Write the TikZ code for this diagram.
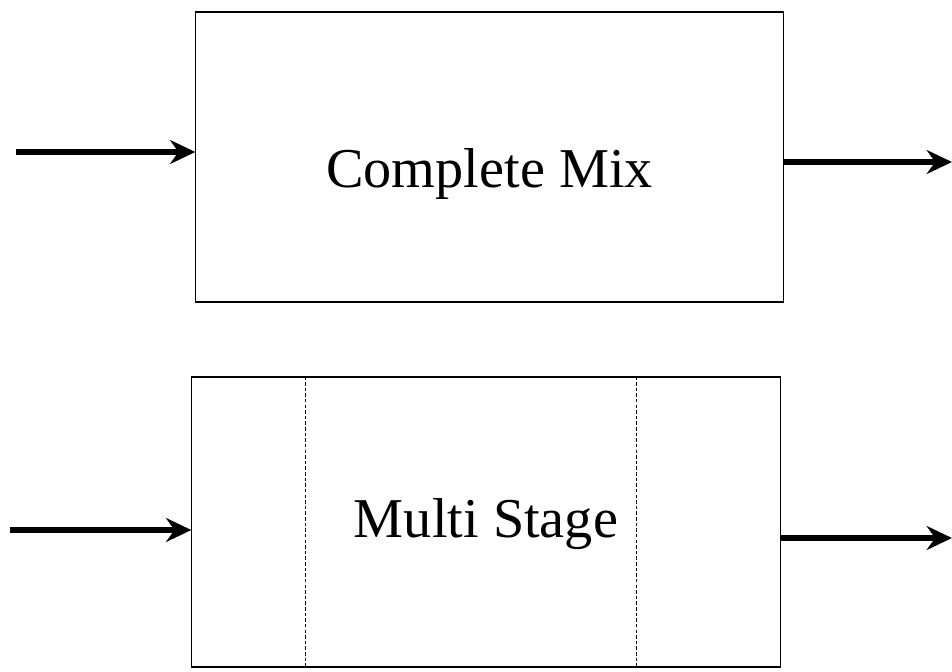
\documentclass[tikz,border=0pt]{standalone}
\usepackage{fontspec}
\setmainfont{Liberation Serif}
\usetikzlibrary{calc}
\usetikzlibrary{arrows.meta}

\begin{document}
\begin{tikzpicture}[x=0.025cm,y=-0.025cm,
    reactor/.style={draw,line width=0.8pt,inner sep=0pt,minimum height=7.25cm},
    flow/.style={line width=3.6pt,-{Stealth[length=18pt,width=17pt,inset=6pt]}},
    stage/.style={line width=0.6pt,dash pattern=on 2.5pt off 1.5pt},
    caption/.style={anchor=base,font=\fontsize{40}{48}\selectfont}]
    \useasboundingbox (0,0) rectangle (952,671);

    % Define the free ends of the flow lines
    \coordinate (in1) at (16,152);
    \coordinate (out1) at (952,162);
    \coordinate (in2) at (10,530);
    \coordinate (out2) at (952,538);

    % Draw the complete mix reactor
    \node[reactor,minimum width=14.675cm] (mix) at (489.5,157) {};
    \node[caption] (mixlabel) at ($(mix.center)+(0,30)$) {Complete Mix};

    % Draw the multi stage reactor
    \node[reactor,minimum width=14.7cm] (multi) at (486,522) {};
    \node[caption] (multilabel) at ($(multi.center)+(0,15)$) {Multi Stage};
    \foreach \d in {114,445}
        \draw[stage] ($(multi.north west)+(\d,0)$) -- ($(multi.south west)+(\d,0)$);

    % Draw the flows
    \draw[flow] (in1) -- (in1 -| mix.west);
    \draw[flow] (out1 -| mix.east) -- (out1);
    \draw[flow] (in2) -- (in2 -| multi.west);
    \draw[flow] (out2 -| multi.east) -- (out2);
\end{tikzpicture}
\end{document}
